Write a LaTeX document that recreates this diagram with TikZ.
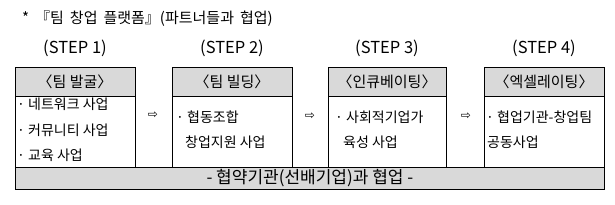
\documentclass[tikz,border=0pt]{standalone}
\usepackage{fontspec}
\setmainfont{Noto Sans CJK KR}
\newfontfamily\symfont{DejaVu Sans}
\definecolor{hdrgray}{HTML}{D9D9D9}
\begin{document}
\begin{tikzpicture}[x=1pt,y=-1pt,
  hdr/.style={draw,fill=hdrgray,line width=0.8pt,minimum height=29pt,inner sep=0pt,font=\fontsize{15}{17}\selectfont},
  bodybox/.style={draw,line width=0.8pt,minimum height=71pt,inner sep=0pt},
  steplbl/.style={font=\fontsize{16.5}{18}\selectfont},
  item/.style={anchor=west,inner sep=0pt,font=\fontsize{14}{16}\selectfont},
  arr/.style={font=\symfont\fontsize{12}{14}\selectfont},
  bar/.style={draw,fill=hdrgray,line width=0.8pt,minimum height=22pt,minimum width=589pt,inner sep=0pt,font=\fontsize{17}{19}\selectfont}]
\useasboundingbox (0,0) rectangle (615,204);
\node[anchor=west,inner sep=0pt,font=\fontsize{15}{17}\selectfont] (title) at (22,19) {\spaceskip=0.4em * 『팀 창업 플랫폼』(파트너들과 협업)};
% step labels
\node[steplbl] (s1) at (75,48) {(STEP 1)};
\node[steplbl] (s2) at (232,48) {(STEP 2)};
\node[steplbl] (s3) at (387,48) {(STEP 3)};
\node[steplbl] (s4) at (544,48) {(STEP 4)};
% headers
\node[hdr,minimum width=120pt] (h1) at (75,81.5) {〈팀 발굴〉};
\node[hdr,minimum width=120pt] (h2) at (232,81.5) {〈팀 빌딩〉};
\node[hdr,minimum width=118pt] (h3) at (387,81.5) {〈인큐베이팅〉};
\node[hdr,minimum width=120pt] (h4) at (544,81.5) {〈엑셀레이팅〉};
% bodies
\node[bodybox,minimum width=120pt,anchor=north] (b1) at (h1.south) {};
\node[bodybox,minimum width=120pt,anchor=north] (b2) at (h2.south) {};
\node[bodybox,minimum width=118pt,anchor=north] (b3) at (h3.south) {};
\node[bodybox,minimum width=120pt,anchor=north] (b4) at (h4.south) {};
% bottom bar
\node[bar,anchor=north west] (bar) at (15,167) {- 협약기관(선배기업)과 협업 -};
% body texts
\node[item] (t11) at (17,104) {· 네트워크 사업};
\node[item] (t12) at (17,130) {· 커뮤니티 사업};
\node[item] (t13) at (17,155) {· 교육 사업};
\node[item] (t21) at (176,117) {· 협동조합};
\node[item] (t22) at (185,142) {창업지원 사업};
\node[item] (t31) at (335,117) {· 사회적기업가};
\node[item] (t32) at (343,142) {육성 사업};
\node[item] (t41) at (486,117) {· 협업기관-창업팀};
\node[item] (t42) at (487,142) {공동사업};
% arrows
\node[arr] (a1) at (153,115) {⇨};
\node[arr] (a2) at (310,116) {⇨};
\node[arr] (a3) at (466,116) {⇨};
\end{tikzpicture}
\end{document}
